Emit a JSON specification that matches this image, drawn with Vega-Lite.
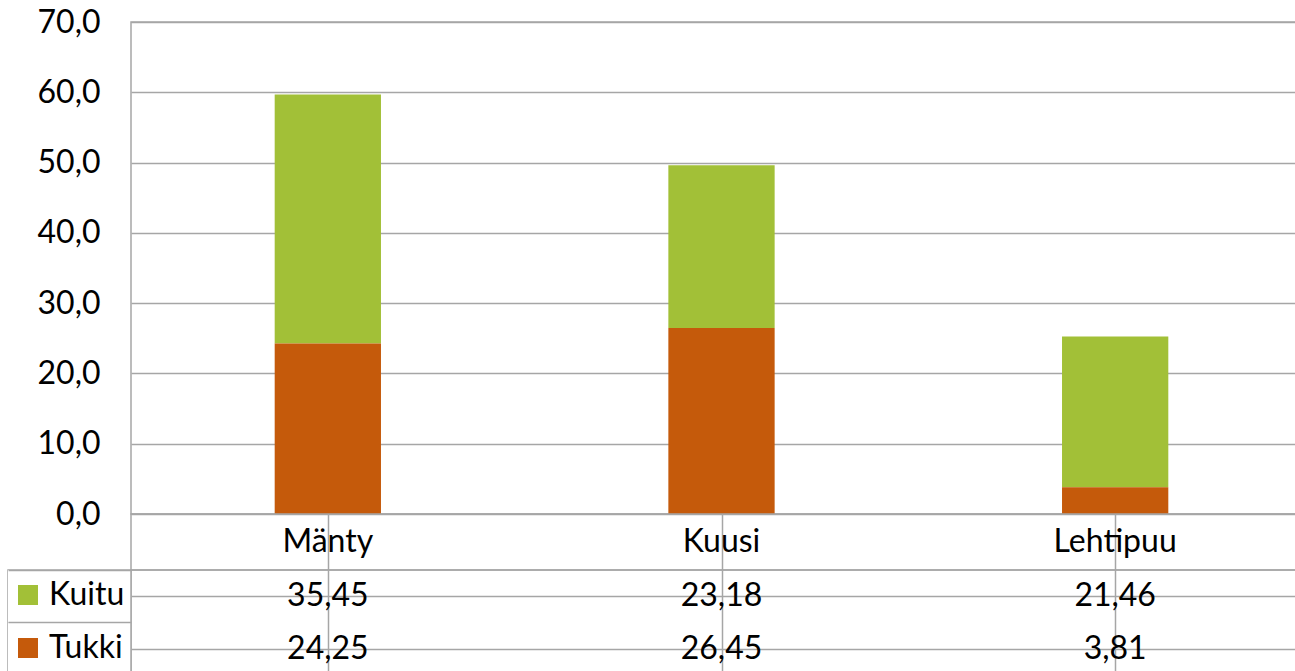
{
  "$schema": "https://vega.github.io/schema/vega-lite/v6.json",
  "padding": {"left": 7, "top": 5, "right": 0, "bottom": 0},
  "datasets": {
    "puu": [
      {"laji": "Mänty", "lajite": "Kuitu", "arvo": 35.45},
      {"laji": "Mänty", "lajite": "Tukki", "arvo": 24.25},
      {"laji": "Kuusi", "lajite": "Kuitu", "arvo": 23.18},
      {"laji": "Kuusi", "lajite": "Tukki", "arvo": 26.45},
      {"laji": "Lehtipuu", "lajite": "Kuitu", "arvo": 21.46},
      {"laji": "Lehtipuu", "lajite": "Tukki", "arvo": 3.81}
    ]
  },
  "bounds": "flush",
  "spacing": 0,
  "columns": 2,
  "concat": [
    {"width": 123, "height": 492, "data": {"values": []}, "mark": "point", "view": {"stroke": null}},
    {
      "width": 1181,
      "height": 492,
      "data": {"name": "puu"},
      "mark": {"type": "bar"},
      "encoding": {
        "x": {"field": "laji", "type": "nominal", "sort": ["Mänty", "Kuusi", "Lehtipuu"],
              "scale": {"paddingInner": 0.73, "paddingOuter": 0.365}, "axis": null},
        "y": {"field": "arvo", "type": "quantitative", "aggregate": "sum", "stack": "zero",
              "scale": {"domain": [0, 70], "nice": false},
              "axis": {"values": [0, 10, 20, 30, 40, 50, 60, 70], "format": ".1f", "title": null,
                       "grid": true, "gridColor": "#A6A6A6", "gridWidth": 1.5, "domain": false, "ticks": false,
                       "labelPadding": 31, "labelFont": "Lato", "labelFontSize": 32, "labelColor": "#000"}},
        "color": {"field": "lajite", "type": "nominal",
                  "scale": {"domain": ["Kuitu", "Tukki"], "range": ["#A2C037", "#C55A0B"]},
                  "legend": {"title": null, "orient": "none", "legendX": 4, "legendY": 557,
                             "symbolType": "square", "symbolSize": 400, "symbolStrokeWidth": 0,
                             "labelFont": "Lato", "labelFontSize": 32, "labelColor": "#000",
                             "labelOffset": 5, "rowPadding": 21, "padding": 0}},
        "order": {"field": "lajite", "sort": "descending"}
      }
    },
    {"width": 123, "height": 56, "data": {"values": []}, "mark": "point", "view": {"stroke": null}},
    {
      "width": 1181,
      "height": 56,
      "data": {"name": "puu"},
      "transform": [{"aggregate": [{"op": "count", "as": "n"}], "groupby": ["laji"]}],
      "mark": {"type": "text", "font": "Lato", "fontSize": 32, "color": "#000", "baseline": "middle"},
      "encoding": {
        "x": {"field": "laji", "type": "nominal", "sort": ["Mänty", "Kuusi", "Lehtipuu"],
              "scale": {"paddingInner": 0, "paddingOuter": 0},
              "axis": {"title": null, "labels": false, "ticks": false, "domain": false, "grid": true,
                       "bandPosition": 0, "gridColor": "#A6A6A6", "gridWidth": 1.5}},
        "text": {"field": "laji"}
      }
    },
    {
      "width": 123,
      "height": 105,
      "data": {"name": "puu"},
      "transform": [{"aggregate": [{"op": "count", "as": "n"}], "groupby": ["lajite"]}],
      "mark": {"type": "rect", "color": "white"},
      "encoding": {
        "y": {"field": "lajite", "type": "nominal", "scale": {"domain": ["Kuitu", "Tukki"], "paddingInner": 0, "paddingOuter": 0},
              "axis": {"title": null, "labels": false, "ticks": false, "domain": false, "grid": true,
                       "bandPosition": 0, "gridColor": "#A6A6A6", "gridWidth": 1.5}}
      }
    },
    {
      "width": 1181,
      "height": 105,
      "data": {"name": "puu"},
      "mark": {"type": "text", "font": "Lato", "fontSize": 32, "color": "#000", "baseline": "middle"},
      "encoding": {
        "x": {"field": "laji", "type": "nominal", "sort": ["Mänty", "Kuusi", "Lehtipuu"],
              "scale": {"paddingInner": 0, "paddingOuter": 0},
              "axis": {"title": null, "labels": false, "ticks": false, "domain": false, "grid": true,
                       "bandPosition": 0, "gridColor": "#A6A6A6", "gridWidth": 1.5}},
        "y": {"field": "lajite", "type": "nominal", "scale": {"domain": ["Kuitu", "Tukki"], "paddingInner": 0, "paddingOuter": 0},
              "axis": {"title": null, "labels": false, "ticks": false, "domain": false, "grid": true,
                       "bandPosition": 0, "gridColor": "#A6A6A6", "gridWidth": 1.5}},
        "text": {"field": "arvo", "type": "quantitative", "format": ".2f"}
      }
    }
  ],
  "config": {
    "locale": {"number": {"decimal": ",", "thousands": "\u00a0", "grouping": [3], "currency": ["", "\u00a0€"]}},
    "view": {"stroke": "#A6A6A6", "strokeWidth": 1.5},
    "concat": {"spacing": 0}
  }
}
